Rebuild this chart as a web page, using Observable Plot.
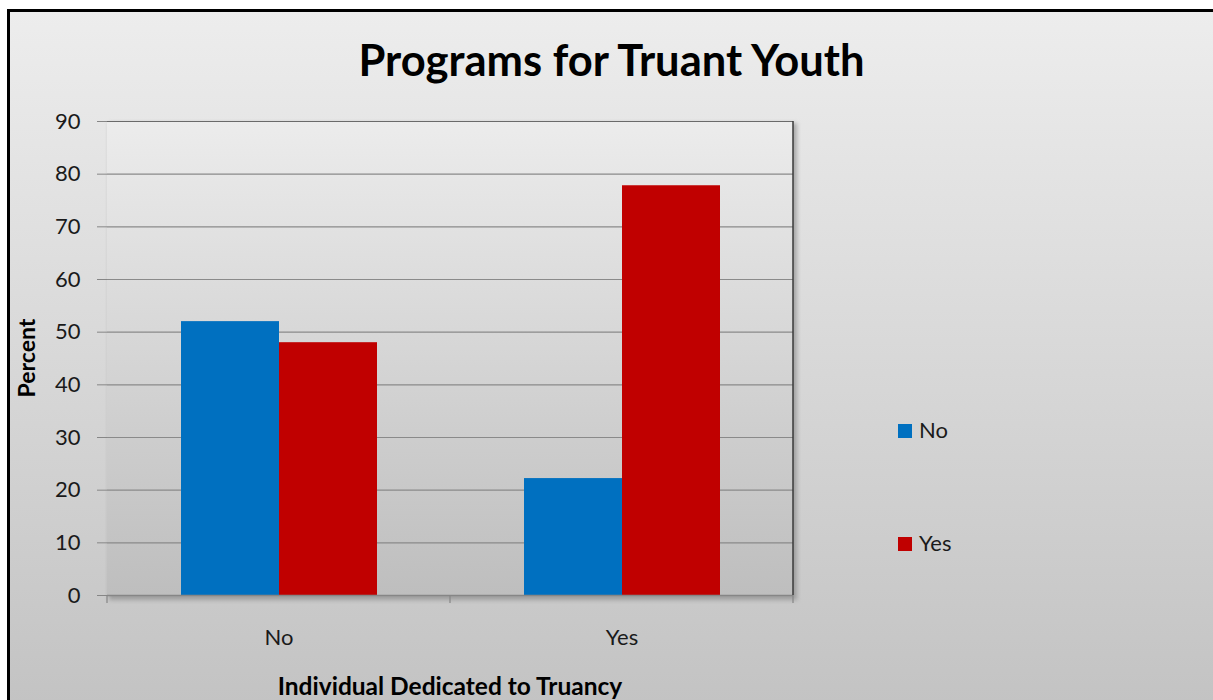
<!DOCTYPE html>
<html>
<head>
<meta charset="utf-8">
<script src="https://cdn.jsdelivr.net/npm/d3@7"></script>
<script src="https://cdn.jsdelivr.net/npm/@observablehq/plot@0.6"></script>
<style>
  html, body { margin: 0; padding: 0; background: #ffffff; }
  #wrap { position: relative; width: 1213px; height: 700px; overflow: hidden; font-family: Lato, "Open Sans", sans-serif; }
  #bg { position: absolute; left: 7px; top: 9px; width: 1230px; height: 720px;
        border-left: 3px solid #000; border-top: 3px solid #000;
        background: linear-gradient(to bottom, #ededed 0px, #c3c3c3 691px); }
  #chart { position: absolute; left: 0; top: 0; }
</style>
</head>
<body>
<div id="wrap">
  <div id="bg"></div>
  <div id="chart"></div>
</div>
<script>
// ---- data ----
const categories = ["No", "Yes"];          // x-axis categories (Individual Dedicated to Truancy)
const seriesNames = ["No", "Yes"];         // legend series
const seriesNoValues = [52, 22.2];         // percent, series "No" per category
const seriesYesValues = [48, 77.8];        // percent, series "Yes" per category
const yTicks = [0, 10, 20, 30, 40, 50, 60, 70, 80, 90];
const seriesColors = ["#0070C0", "#C00000"];
const titleText = "Programs for Truant Youth";
const xTitleText = "Individual Dedicated to Truancy";
const yTitleText = "Percent";

const rows = [];
categories.forEach((c, i) => {
  rows.push({cat: c, series: seriesNames[0], value: seriesNoValues[i]});
  rows.push({cat: c, series: seriesNames[1], value: seriesYesValues[i]});
});

const W = 1213, H = 700;
const plot = Plot.plot({
  width: W,
  height: H,
  marginLeft: 107,
  marginRight: 420,
  marginTop: 121,
  marginBottom: 105,
  style: {fontFamily: "Lato, 'Open Sans', sans-serif", fontSize: "22px", color: "#1a1a1a", background: "transparent", overflow: "visible"},
  fx: {domain: categories, padding: 0, label: null},
  x: {domain: seriesNames, paddingInner: 0, paddingOuter: 0.75, axis: null},
  y: {domain: [0, 90], label: null},
  color: {domain: seriesNames, range: seriesColors},
  marks: [
    Plot.gridY(yTicks, {stroke: "#8a8a8a", strokeOpacity: 1, strokeWidth: 1.2}),
    Plot.ruleY([90], {stroke: "#6a6a6a", strokeWidth: 1.2}),
    Plot.barY(rows, {fx: "cat", x: "series", y: "value", fill: "series"}),
    Plot.ruleY([0], {stroke: "#868686", strokeWidth: 1.5}),
    Plot.axisY(yTicks, {tickSize: 10, tickPadding: 17, stroke: "#868686", fill: "#1a1a1a", fontSize: 22, label: null}),
    Plot.axisFx({anchor: "bottom", tickSize: 0, tickPadding: 34, fill: "#1a1a1a", fontSize: 22, label: null})
  ]
});

document.getElementById("chart").appendChild(plot);

// ---- decorations using the library's scales ----
const svg = d3.select(plot);
const fxS = plot.scale("fx");
const yS = plot.scale("y");
const colorS = plot.scale("color");
const left = fxS.apply(categories[0]);
const right = fxS.apply(categories[categories.length - 1]) + fxS.bandwidth;
const y0 = yS.apply(0), yTop = yS.apply(90);

const defs = svg.insert("defs", ":first-child");
const grad = defs.append("linearGradient").attr("id", "paGrad").attr("x1", 0).attr("y1", 0).attr("x2", 0).attr("y2", 1);
grad.append("stop").attr("offset", "0%").attr("stop-color", "#ececec");
grad.append("stop").attr("offset", "100%").attr("stop-color", "#bebebe");
const flt = defs.append("filter").attr("id", "shadow").attr("x", "-5%").attr("y", "-5%").attr("width", "110%").attr("height", "110%");
flt.append("feGaussianBlur").attr("stdDeviation", 2);

// plot area background (single rect, spanning both category bands)
svg.insert("rect", "defs + *")
  .attr("x", left).attr("y", yTop).attr("width", right - left).attr("height", y0 - yTop)
  .attr("fill", "url(#paGrad)");
// shadow behind plot area
svg.insert("rect", "defs + *")
  .attr("x", left + 2).attr("y", yTop + 2)
  .attr("width", right - left + 2).attr("height", y0 - yTop + 3)
  .attr("fill", "#7a7a7a").attr("opacity", 0.55).attr("filter", "url(#shadow)");

// right border of plot area
svg.append("line").attr("x1", right).attr("x2", right).attr("y1", yTop).attr("y2", y0)
  .attr("stroke", "#3a3a3a").attr("stroke-width", 1.5);
// x-axis tick marks at category boundaries
const bounds = categories.map(c => fxS.apply(c)).concat([right]);
svg.append("g").selectAll("line").data(bounds).join("line")
  .attr("x1", d => d).attr("x2", d => d).attr("y1", y0).attr("y2", y0 + 8)
  .attr("stroke", "#868686").attr("stroke-width", 1.2);

// title
svg.append("text").attr("x", 611.5).attr("y", 76).attr("text-anchor", "middle")
  .attr("font-weight", "bold").attr("font-size", 43.5).attr("fill", "#000").text(titleText);
// y title
svg.append("text").attr("transform", `translate(35,${(y0 + yTop) / 2}) rotate(-90)`)
  .attr("text-anchor", "middle").attr("font-weight", "bold").attr("font-size", 23).attr("fill", "#000").text(yTitleText);
// x title
svg.append("text").attr("x", (left + right) / 2).attr("y", 695).attr("text-anchor", "middle")
  .attr("font-weight", "bold").attr("font-size", 24.5).attr("fill", "#000").text(xTitleText);

// legend
const lg = svg.append("g").attr("text-anchor", "start");
const legendY = [438, 551];
seriesNames.forEach((s, i) => {
  lg.append("rect").attr("x", 898).attr("y", legendY[i] - 14).attr("width", 14).attr("height", 14)
    .attr("fill", colorS.apply(s));
  lg.append("text").attr("x", 919).attr("y", legendY[i]).attr("text-anchor", "start")
    .attr("font-size", 22).attr("fill", "#1a1a1a").text(s);
});
</script>
</body>
</html>
